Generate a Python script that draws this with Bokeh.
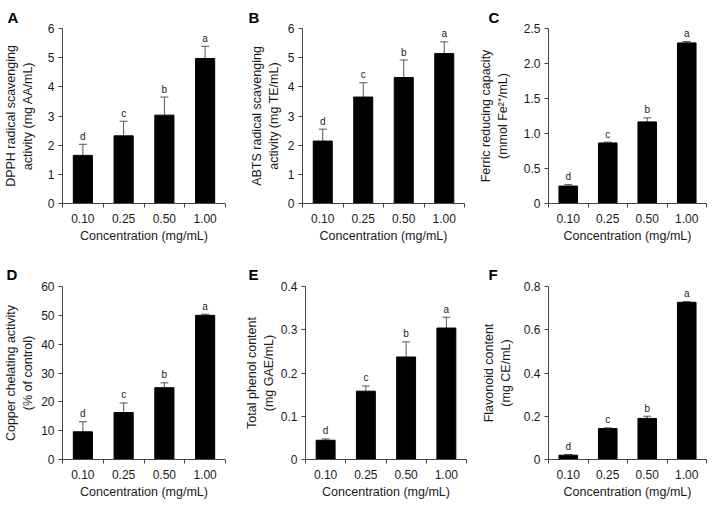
from bokeh.plotting import figure
from bokeh.layouts import column, row
from bokeh.models import Range1d, FixedTicker, Whisker, TeeHead, ColumnDataSource
from bokeh.core.properties import value
from bokeh.embed import file_html
from bokeh.resources import INLINE

concentrations = ["0.10", "0.25", "0.50", "1.00"]
letters = ["d", "c", "b", "a"]

dpph_mean = [1.65, 2.32, 3.03, 4.97]
dpph_err = [0.38, 0.50, 0.62, 0.42]
abts_mean = [2.14, 3.65, 4.32, 5.14]
abts_err = [0.41, 0.49, 0.60, 0.40]
frap_mean = [0.249, 0.865, 1.166, 2.294]
frap_err = [0.02, 0.012, 0.057, 0.02]
copper_mean = [9.6, 16.3, 24.9, 50.0]
copper_err = [3.5, 3.3, 1.7, 0.4]
phenol_mean = [0.0445, 0.158, 0.237, 0.304]
phenol_err = [0.003, 0.012, 0.035, 0.025]
flav_mean = [0.020, 0.143, 0.190, 0.727]
flav_err = [0.003, 0.003, 0.010, 0.003]

ticks_a = [0, 1, 2, 3, 4, 5, 6]
labels_a = ["0", "1", "2", "3", "4", "5", "6"]
ticks_c = [0, 0.5, 1.0, 1.5, 2.0, 2.5]
labels_c = ["0", "0.5", "1.0", "1.5", "2.0", "2.5"]
ticks_d = [0, 10, 20, 30, 40, 50, 60]
labels_d = ["0", "10", "20", "30", "40", "50", "60"]
ticks_e = [0, 0.1, 0.2, 0.3, 0.4]
labels_e = ["0", "0.1", "0.2", "0.3", "0.4"]
ticks_f = [0, 0.2, 0.4, 0.6, 0.8]
labels_f = ["0", "0.2", "0.4", "0.6", "0.8"]

x_title = "Concentration (mg/mL)"
FONT = "Liberation Sans"
TXT = "#1a1a1a"
AX = "#444444"


def panel(tag, tag_dx, tag_standoff, means, errs, yticks, ylabels, ytitle,
          width, height, bl, br, bt, bb, ystandoff):
    n = len(concentrations)
    xs = [i + 0.5 for i in range(n)]
    p = figure(width=width, height=height,
               x_range=Range1d(0, n), y_range=Range1d(0, yticks[-1]),
               output_backend="svg", toolbar_location=None,
               min_border_left=bl, min_border_right=br,
               min_border_top=bt, min_border_bottom=bb)
    p.outline_line_color = None
    p.grid.visible = False
    p.background_fill_color = "white"
    p.border_fill_color = "white"

    p.title.text = tag
    p.title.align = "left"
    p.title.offset = tag_dx
    p.title.standoff = tag_standoff
    p.title.text_font = FONT
    p.title.text_font_size = "15px"
    p.title.text_font_style = "bold"
    p.title.text_color = "black"

    src = ColumnDataSource(dict(
        x=xs, top=means,
        upper=[m + e for m, e in zip(means, errs)],
        letter=letters))
    p.vbar(x="x", top="top", bottom=0, width=0.47, source=src,
           fill_color="black", line_color="black")
    w = Whisker(base="x", lower="top", upper="upper", source=src,
                dimension="height", line_color="#555555", line_width=1,
                lower_head=None,
                upper_head=TeeHead(size=8, line_color="#555555", line_width=1))
    p.add_layout(w)
    p.text(x="x", y="upper", text="letter", source=src,
           text_align="center", text_baseline="alphabetic", y_offset=-8,
           text_font=value(FONT), text_font_size="10px", text_color=TXT)

    # x axis
    xa = p.xaxis[0]
    xa.ticker = FixedTicker(ticks=xs, minor_ticks=list(range(n + 1)))
    xa.major_label_overrides = {x: c for x, c in zip(xs, concentrations)}
    xa.major_tick_out = 0
    xa.major_tick_in = 0
    xa.minor_tick_out = 4
    xa.minor_tick_in = 0
    xa.major_label_standoff = 6
    xa.axis_label = x_title
    xa.axis_label_standoff = 3

    # y axis
    ya = p.yaxis[0]
    ya.ticker = FixedTicker(ticks=yticks, minor_ticks=[])
    ya.major_label_overrides = {t: l for t, l in zip(yticks, ylabels)}
    ya.major_tick_out = 4
    ya.major_tick_in = 0
    ya.minor_tick_out = 0
    ya.minor_tick_in = 0
    ya.major_label_standoff = 4
    ya.axis_label = ytitle
    ya.axis_label_standoff = ystandoff

    for ax in (xa, ya):
        ax.axis_line_color = AX
        ax.major_tick_line_color = AX
        ax.minor_tick_line_color = AX
        ax.major_label_text_font = FONT
        ax.major_label_text_font_size = "12px"
        ax.major_label_text_color = TXT
        ax.axis_label_text_font = FONT
        ax.axis_label_text_font_size = "12.5px"
        ax.axis_label_text_font_style = "normal"
        ax.axis_label_text_color = TXT
    return p


pa = panel("A", -55, 6, dpph_mean, dpph_err, ticks_a, labels_a,
           "DPPH radical scavenging\nactivity (mg AA/mL)",
           235, 253, 62, 10, 28, 50, 10)
pb = panel("B", -54, 6, abts_mean, abts_err, ticks_a, labels_a,
           "ABTS radical scavenging\nactivity (mg TE/mL)",
           240, 253, 67, 11, 28, 50, 4)
pc = panel("C", -60, 6, frap_mean, frap_err, ticks_c, labels_c,
           "Ferric reducing capacity\n(mmol Fe\u00b2\u207a/mL)",
           237, 253, 73, 6, 28, 50, 11)
pd_ = panel("D", -56, 7, copper_mean, copper_err, ticks_d, labels_d,
            "Copper chelating activity\n(% of control)",
            235, 253, 62, 10, 33, 47, 3)
pe = panel("E", -57, 7, phenol_mean, phenol_err, ticks_e, labels_e,
           "Total phenol content\n(mg GAE/mL)",
           240, 253, 70, 9, 33, 47, 2)
pf = panel("F", -60, 7, flav_mean, flav_err, ticks_f, labels_f,
           "Flavonoid content\n(mg CE/mL)",
           237, 253, 73, 6, 33, 47, 8)

layout = column(row(pa, pb, pc), row(pd_, pe, pf))
open("out.html", "w").write(file_html(layout, INLINE))
